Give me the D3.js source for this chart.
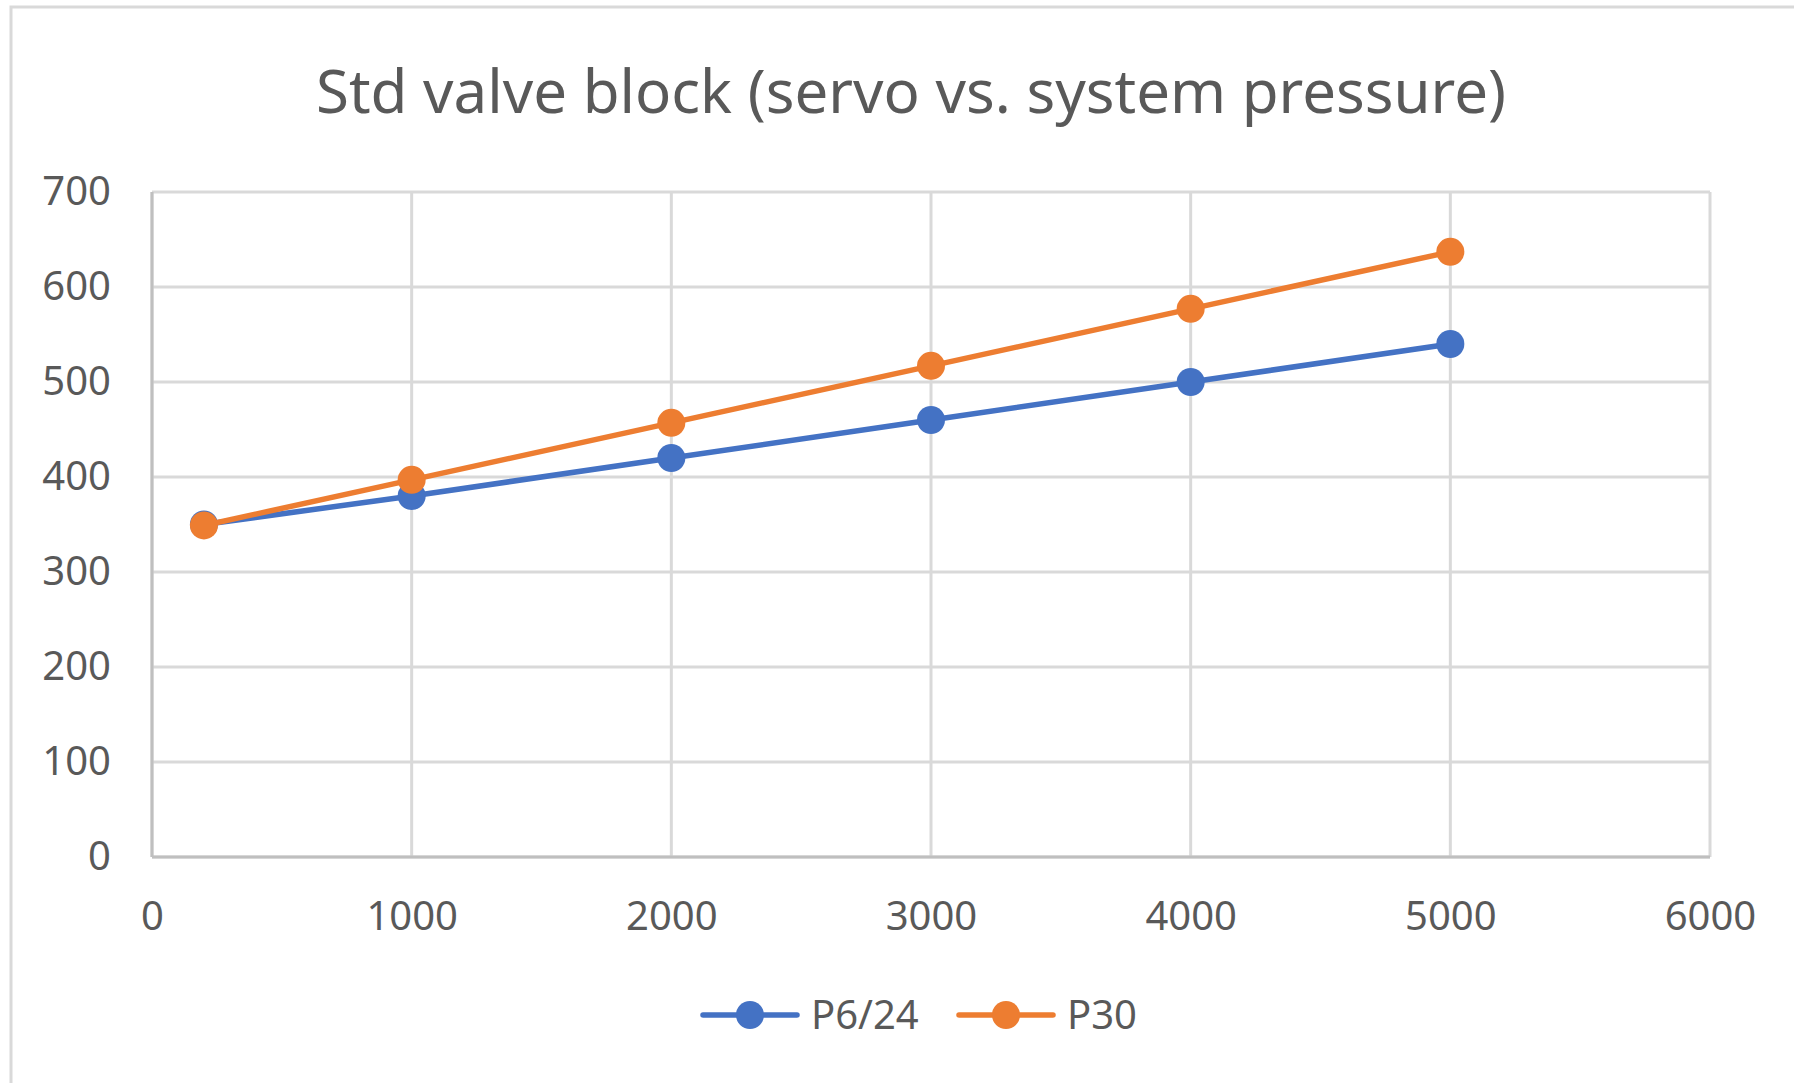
<!DOCTYPE html>
<html>
<head>
<meta charset="utf-8">
<script src="https://cdn.jsdelivr.net/npm/d3@7"></script>
<style>
  body { margin: 0; background: #fff; }
  text { font-family: "Noto Sans", "Open Sans", sans-serif; fill: #595959; }
</style>
</head>
<body>
<script>
// Data
const pressure = [200, 1000, 2000, 3000, 4000, 5000];
const p624 = [350, 380, 420, 460, 500, 540];
const p30 = [349, 397, 457, 517, 577, 637];
const seriesNames = ["P6/24", "P30"];
const seriesColors = ["#4472C4", "#ED7D31"];
const xTicks = [0, 1000, 2000, 3000, 4000, 5000, 6000];
const yTicks = [0, 100, 200, 300, 400, 500, 600, 700];
const title = "Std valve block (servo vs. system pressure)";

const W = 1794, H = 1083;
const margin = { top: 192, right: 84, bottom: 226, left: 152 };
const width = W - margin.left - margin.right;
const height = H - margin.top - margin.bottom;

const svg = d3.select("body").append("svg")
    .attr("width", W)
    .attr("height", H);

// chart area border (only left and top are visible in frame)
svg.append("rect")
    .attr("x", 11).attr("y", 7)
    .attr("width", W + 20).attr("height", H + 20)
    .attr("fill", "none")
    .attr("stroke", "#d9d9d9")
    .attr("stroke-width", 3);

const g = svg.append("g")
    .attr("transform", `translate(${margin.left},${margin.top})`);

const x = d3.scaleLinear().domain([0, 6000]).range([0, width]);
const y = d3.scaleLinear().domain([0, 700]).range([height, 0]);

// gridlines
g.append("g").selectAll("line")
    .data(yTicks)
    .enter().append("line")
    .attr("x1", 0).attr("x2", width)
    .attr("y1", d => y(d)).attr("y2", d => y(d))
    .attr("stroke", "#d9d9d9")
    .attr("stroke-width", 3);

g.append("g").selectAll("line")
    .data(xTicks)
    .enter().append("line")
    .attr("x1", d => x(d)).attr("x2", d => x(d))
    .attr("y1", 0).attr("y2", height)
    .attr("stroke", "#d9d9d9")
    .attr("stroke-width", 3);

// axis lines
g.append("line")
    .attr("x1", 0).attr("x2", width)
    .attr("y1", height).attr("y2", height)
    .attr("stroke", "#bfbfbf").attr("stroke-width", 3);
g.append("line")
    .attr("x1", 0).attr("x2", 0)
    .attr("y1", 0).attr("y2", height)
    .attr("stroke", "#bfbfbf").attr("stroke-width", 3);

// axes labels via d3 axes
const xAxis = g.append("g")
    .attr("transform", `translate(0,${height})`)
    .call(d3.axisBottom(x).tickValues(xTicks).tickSize(0).tickPadding(45).tickFormat(d3.format("d")));
const yAxis = g.append("g")
    .call(d3.axisLeft(y).tickValues(yTicks).tickSize(0).tickPadding(41).tickFormat(d3.format("d")));
[xAxis, yAxis].forEach(a => {
    a.select(".domain").remove();
    a.selectAll("text").style("font-size", "40px").attr("fill", "#595959");
});

// lines and markers
const allSeries = [p624, p30];
const line = d3.line()
    .x((d, i) => x(pressure[i]))
    .y(d => y(d));

allSeries.forEach((vals, s) => {
    g.append("path")
        .datum(vals)
        .attr("d", line)
        .attr("fill", "none")
        .attr("stroke", seriesColors[s])
        .attr("stroke-width", 5.5)
        .attr("stroke-linecap", "round")
        .attr("stroke-linejoin", "round");
    g.append("g").selectAll("circle")
        .data(vals)
        .enter().append("circle")
        .attr("cx", (d, i) => x(pressure[i]))
        .attr("cy", d => y(d))
        .attr("r", 14)
        .attr("fill", seriesColors[s]);
});

// title
svg.append("text")
    .attr("x", 911)
    .attr("y", 113)
    .attr("text-anchor", "middle")
    .style("font-size", "60px")
    .text(title);

// legend
const legendX = [703, 959];
const legendY = 1015;
seriesNames.forEach((name, s) => {
    const lg = svg.append("g").attr("transform", `translate(${legendX[s]},${legendY})`);
    lg.append("line")
        .attr("x1", 0).attr("x2", 94)
        .attr("y1", 0).attr("y2", 0)
        .attr("stroke", seriesColors[s])
        .attr("stroke-width", 5.5)
        .attr("stroke-linecap", "round");
    lg.append("circle")
        .attr("cx", 47).attr("cy", 0).attr("r", 14)
        .attr("fill", seriesColors[s]);
    lg.append("text")
        .attr("x", 108).attr("y", 14)
        .style("font-size", "40px")
        .text(name);
});
</script>
</body>
</html>
